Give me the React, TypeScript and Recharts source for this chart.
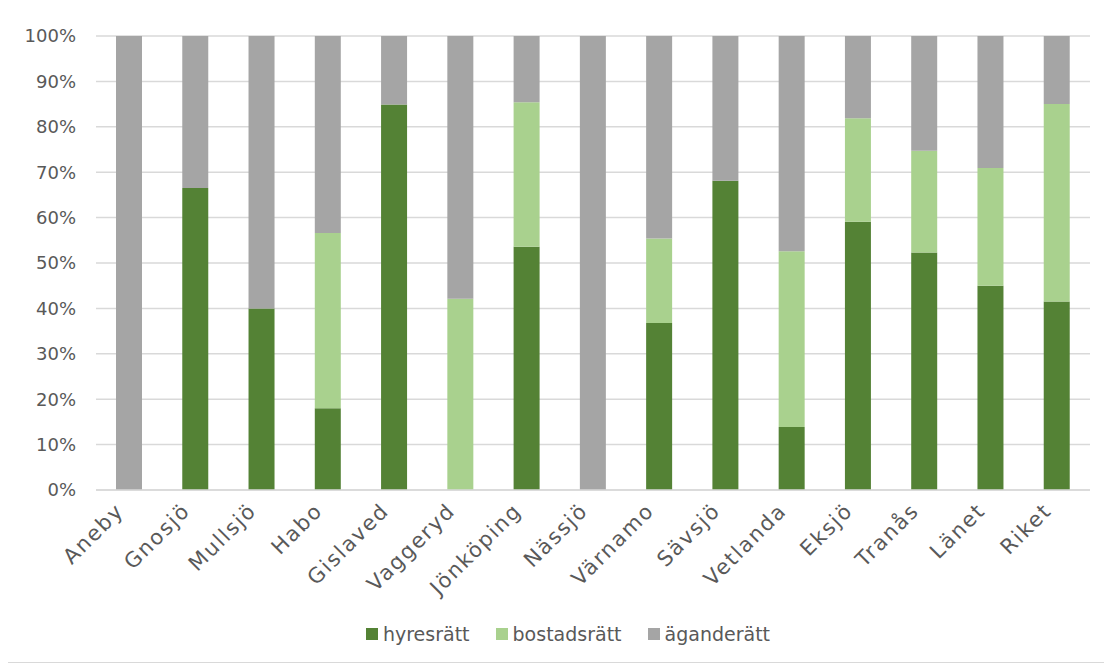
import { BarChart, Bar, XAxis, YAxis, CartesianGrid, Legend } from 'recharts';

// andel hushåll per upplåtelseform (%)
const kommuner = ['Aneby', 'Gnosjö', 'Mullsjö', 'Habo', 'Gislaved', 'Vaggeryd', 'Jönköping', 'Nässjö', 'Värnamo', 'Sävsjö', 'Vetlanda', 'Eksjö', 'Tranås', 'Länet', 'Riket'];
const hyresratt = [0, 66.5, 40, 18, 84.9, 0, 53.6, 0, 36.8, 68.1, 13.9, 59.1, 52.3, 45.0, 41.5];
const bostadsratt = [0, 0, 0, 38.6, 0, 42.1, 31.8, 0, 18.6, 0, 38.7, 22.8, 22.4, 25.9, 43.5];
const aganderatt = [100, 33.5, 60, 43.4, 15.1, 57.9, 14.6, 100, 44.6, 31.9, 47.4, 18.1, 25.3, 29.1, 15.0];
const yTicks = [0, 10, 20, 30, 40, 50, 60, 70, 80, 90, 100];

const series = [
  { key: 'hyresratt', name: 'hyresrätt', color: '#548235' },
  { key: 'bostadsratt', name: 'bostadsrätt', color: '#a9d18e' },
  { key: 'aganderatt', name: 'äganderätt', color: '#a5a5a5' },
];

const data = kommuner.map((k, i) => ({
  name: k,
  hyresratt: hyresratt[i],
  bostadsratt: bostadsratt[i],
  aganderatt: aganderatt[i],
}));

const FONT = "'Century Gothic', 'DejaVu Sans', sans-serif";
const TEXT = '#595959';

function XTick(props: any) {
  const { x, y, payload } = props;
  const tx = x - 4;
  const ty = y + 14;
  return (
    <g transform={`translate(${tx},${ty})`}>
      <text
        x={0}
        y={0}
        textAnchor="end"
        transform="rotate(-45)"
        fill={TEXT}
        fontSize={21}
        letterSpacing={1.8}
        fontFamily={FONT}
      >
        {payload.value}
      </text>
    </g>
  );
}

function LegendContent() {
  return (
    <div style={{ display: 'flex', justifyContent: 'center', paddingLeft: 38, fontFamily: FONT, fontSize: 19, color: TEXT }}>
      {series.map((s, i) => (
        <div key={s.key} style={{ display: 'flex', alignItems: 'center', marginRight: i < series.length - 1 ? 26 : 0 }}>
          <span style={{ width: 12, height: 12, background: s.color, display: 'inline-block', marginRight: 5 }} />
          <span>{s.name}</span>
        </div>
      ))}
    </div>
  );
}

export default function App() {
  return (
    <div style={{ width: 1100, height: 656, boxSizing: 'border-box', border: '1px solid #d9d9d9', background: '#fff', marginLeft: -1, marginTop: -1 }}>
      <BarChart
        width={1098}
        height={654}
        data={data}
        margin={{ top: 28, right: 16, left: 0, bottom: 10 }}
        barSize={26}
      >
        <CartesianGrid vertical={false} stroke="#d9d9d9" strokeWidth={1.5} />
        <XAxis
          dataKey="name"
          interval={0}
          height={133}
          tick={<XTick />}
          tickLine={false}
          axisLine={{ stroke: '#d9d9d9', strokeWidth: 1.5 }}
        />
        <YAxis
          width={88}
          domain={[0, 100]}
          ticks={yTicks}
          tickFormatter={(v) => `${v}%`}
          tick={{ fill: TEXT, fontSize: 18, fontFamily: FONT }}
          tickLine={false}
          axisLine={false}
          tickMargin={14}
        />
        <Legend verticalAlign="bottom" height={29} content={<LegendContent />} />
        {series.map((s) => (
          <Bar key={s.key} dataKey={s.key} name={s.name} stackId="a" fill={s.color} isAnimationActive={false} />
        ))}
      </BarChart>
    </div>
  );
}
